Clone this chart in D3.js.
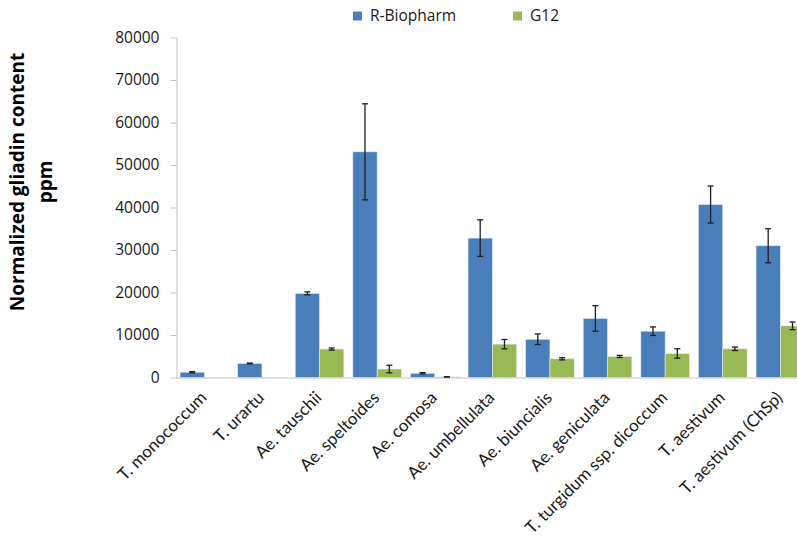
<!DOCTYPE html>
<html>
<head>
<meta charset="utf-8">
<script src="https://cdn.jsdelivr.net/npm/d3@7/dist/d3.min.js"></script>
<style>
  html, body { margin: 0; padding: 0; background: #fff; }
  svg { display: block; font-family: "Open Sans", "Noto Sans", sans-serif; }
</style>
</head>
<body>
<svg id="chart" width="797" height="539"></svg>
<script>
// Wheat species / accessions on the x axis
const categories = [
  "T. monococcum", "T. urartu", "Ae. tauschii", "Ae. speltoides", "Ae. comosa",
  "Ae. umbellulata", "Ae. biuncialis", "Ae. geniculata",
  "T. turgidum ssp. dicoccum", "T. aestivum", "T. aestivum (ChSp)"
];
// Two antibody assays
const seriesNames = ["R-Biopharm", "G12"];
const seriesColors = ["#4a7ebb", "#98b954"];

// Normalized gliadin content (ppm), mean values
const rBiopharm = [1250, 3300, 19800, 53100, 1000, 32800, 9000, 13900, 10900, 40700, 31000];
const g12       = [0, 0, 6700, 2000, 150, 7850, 4400, 4950, 5650, 6750, 12150];
// Error bar half-widths (ppm)
const rBiopharmErr = [150, 100, 350, 11300, 150, 4300, 1250, 3000, 1000, 4350, 4000];
const g12Err       = [0, 0, 250, 900, 0, 1100, 250, 250, 1100, 400, 900];

const yTicks = [0, 10000, 20000, 30000, 40000, 50000, 60000, 70000, 80000];

const svg = d3.select("#chart");
const plotLeft = 176, plotTop = 37.5, plotBottom = 377.5;
// the category axis runs slightly past the right edge of the drawing
const bandStep = 57.6, padIn = 0.156, padOut = 0.07;
const plotRight = plotLeft + bandStep * (categories.length - padIn + 2 * padOut);

const x = d3.scaleBand()
  .domain(categories)
  .range([plotLeft, plotRight])
  .paddingInner(padIn)
  .paddingOuter(padOut);

const xSeries = d3.scaleBand()
  .domain(seriesNames)
  .range([0, x.bandwidth()]);

const y = d3.scaleLinear().domain([0, 80000]).range([plotBottom, plotTop]);

// y axis
const yAxis = d3.axisLeft(y).tickValues(yTicks).tickSize(6).tickSizeOuter(0).tickPadding(11)
  .tickFormat(d3.format("d"));
const gy = svg.append("g").attr("transform", `translate(${plotLeft + 0.5},0)`).call(yAxis);
gy.select(".domain").attr("stroke", "#c0c0c0");
gy.selectAll(".tick line").attr("stroke", "#c0c0c0");
gy.selectAll(".tick text").attr("fill", "#1a1a1a").style("font-size", "15.5px")
  .style("font-family", "'Open Sans', sans-serif");

// bars
const series = [
  { name: seriesNames[0], values: rBiopharm, err: rBiopharmErr, color: seriesColors[0] },
  { name: seriesNames[1], values: g12, err: g12Err, color: seriesColors[1] }
];

const groups = svg.append("g").selectAll("g")
  .data(series).join("g");

groups.selectAll("rect")
  .data(s => categories.map((c, i) => ({ c, v: s.values[i], e: s.err[i], s })))
  .join("rect")
  .attr("x", d => x(d.c) + xSeries(d.s.name))
  .attr("width", xSeries.bandwidth())
  .attr("y", d => y(d.v))
  .attr("height", d => y(0) - y(d.v))
  .attr("fill", d => d.s.color)
  .attr("stroke", "#e4ecf5")
  .attr("stroke-width", 0.6);

// x axis baseline
svg.append("line")
  .attr("x1", plotLeft).attr("x2", plotRight)
  .attr("y1", plotBottom + 0.5).attr("y2", plotBottom + 0.5)
  .attr("stroke", "#c0c0c0");

// error bars
const errData = [];
series.forEach(s => categories.forEach((c, i) => {
  if (s.values[i] > 0) errData.push({ c, v: s.values[i], e: s.err[i], s });
}));
const eg = svg.append("g").attr("stroke", "#1f1f1f").attr("stroke-width", 1.3);
const cx = d => x(d.c) + xSeries(d.s.name) + xSeries.bandwidth() / 2;
eg.selectAll("line.v").data(errData).join("line").attr("class", "v")
  .attr("x1", cx).attr("x2", cx)
  .attr("y1", d => y(d.v + d.e)).attr("y2", d => y(Math.max(0, d.v - d.e)));
eg.selectAll("line.t").data(errData).join("line").attr("class", "t")
  .attr("x1", d => cx(d) - 3).attr("x2", d => cx(d) + 3)
  .attr("y1", d => y(d.v + d.e)).attr("y2", d => y(d.v + d.e));
eg.selectAll("line.b").data(errData).join("line").attr("class", "b")
  .attr("x1", d => cx(d) - 3).attr("x2", d => cx(d) + 3)
  .attr("y1", d => y(Math.max(0, d.v - d.e))).attr("y2", d => y(Math.max(0, d.v - d.e)));

// category labels, rotated
svg.append("g").selectAll("text")
  .data(categories).join("text")
  .attr("transform", d => `translate(${x(d) + x.bandwidth() / 2 - 1},${plotBottom + 17}) rotate(-45)`)
  .attr("text-anchor", "end")
  .attr("dy", "0.35em")
  .attr("fill", "#1a1a1a")
  .style("font-family", "Lato, 'Open Sans', sans-serif")
  .style("font-size", "17px")
  .text(d => d);

// y axis title
const yt = svg.append("text")
  .attr("transform", "translate(24,182) rotate(-90)")
  .attr("text-anchor", "middle")
  .attr("fill", "#000")
  .style("font-size", "19px")
  .style("font-weight", "bold");
yt.append("tspan").attr("x", 0).attr("dy", 0).text("Normalized gliadin content");
yt.append("tspan").attr("x", 0).attr("dy", 28).text("ppm");

// legend
const legend = svg.append("g").selectAll("g")
  .data(series).join("g")
  .attr("transform", (d, i) => `translate(${i === 0 ? 353 : 513},11.5)`);
legend.append("rect").attr("width", 9).attr("height", 9).attr("fill", d => d.color);
legend.append("text")
  .attr("x", 17).attr("y", 4.5).attr("dy", "0.35em")
  .attr("fill", "#1a1a1a")
  .style("font-size", "15.5px")
  .text(d => d.name);
</script>
</body>
</html>
